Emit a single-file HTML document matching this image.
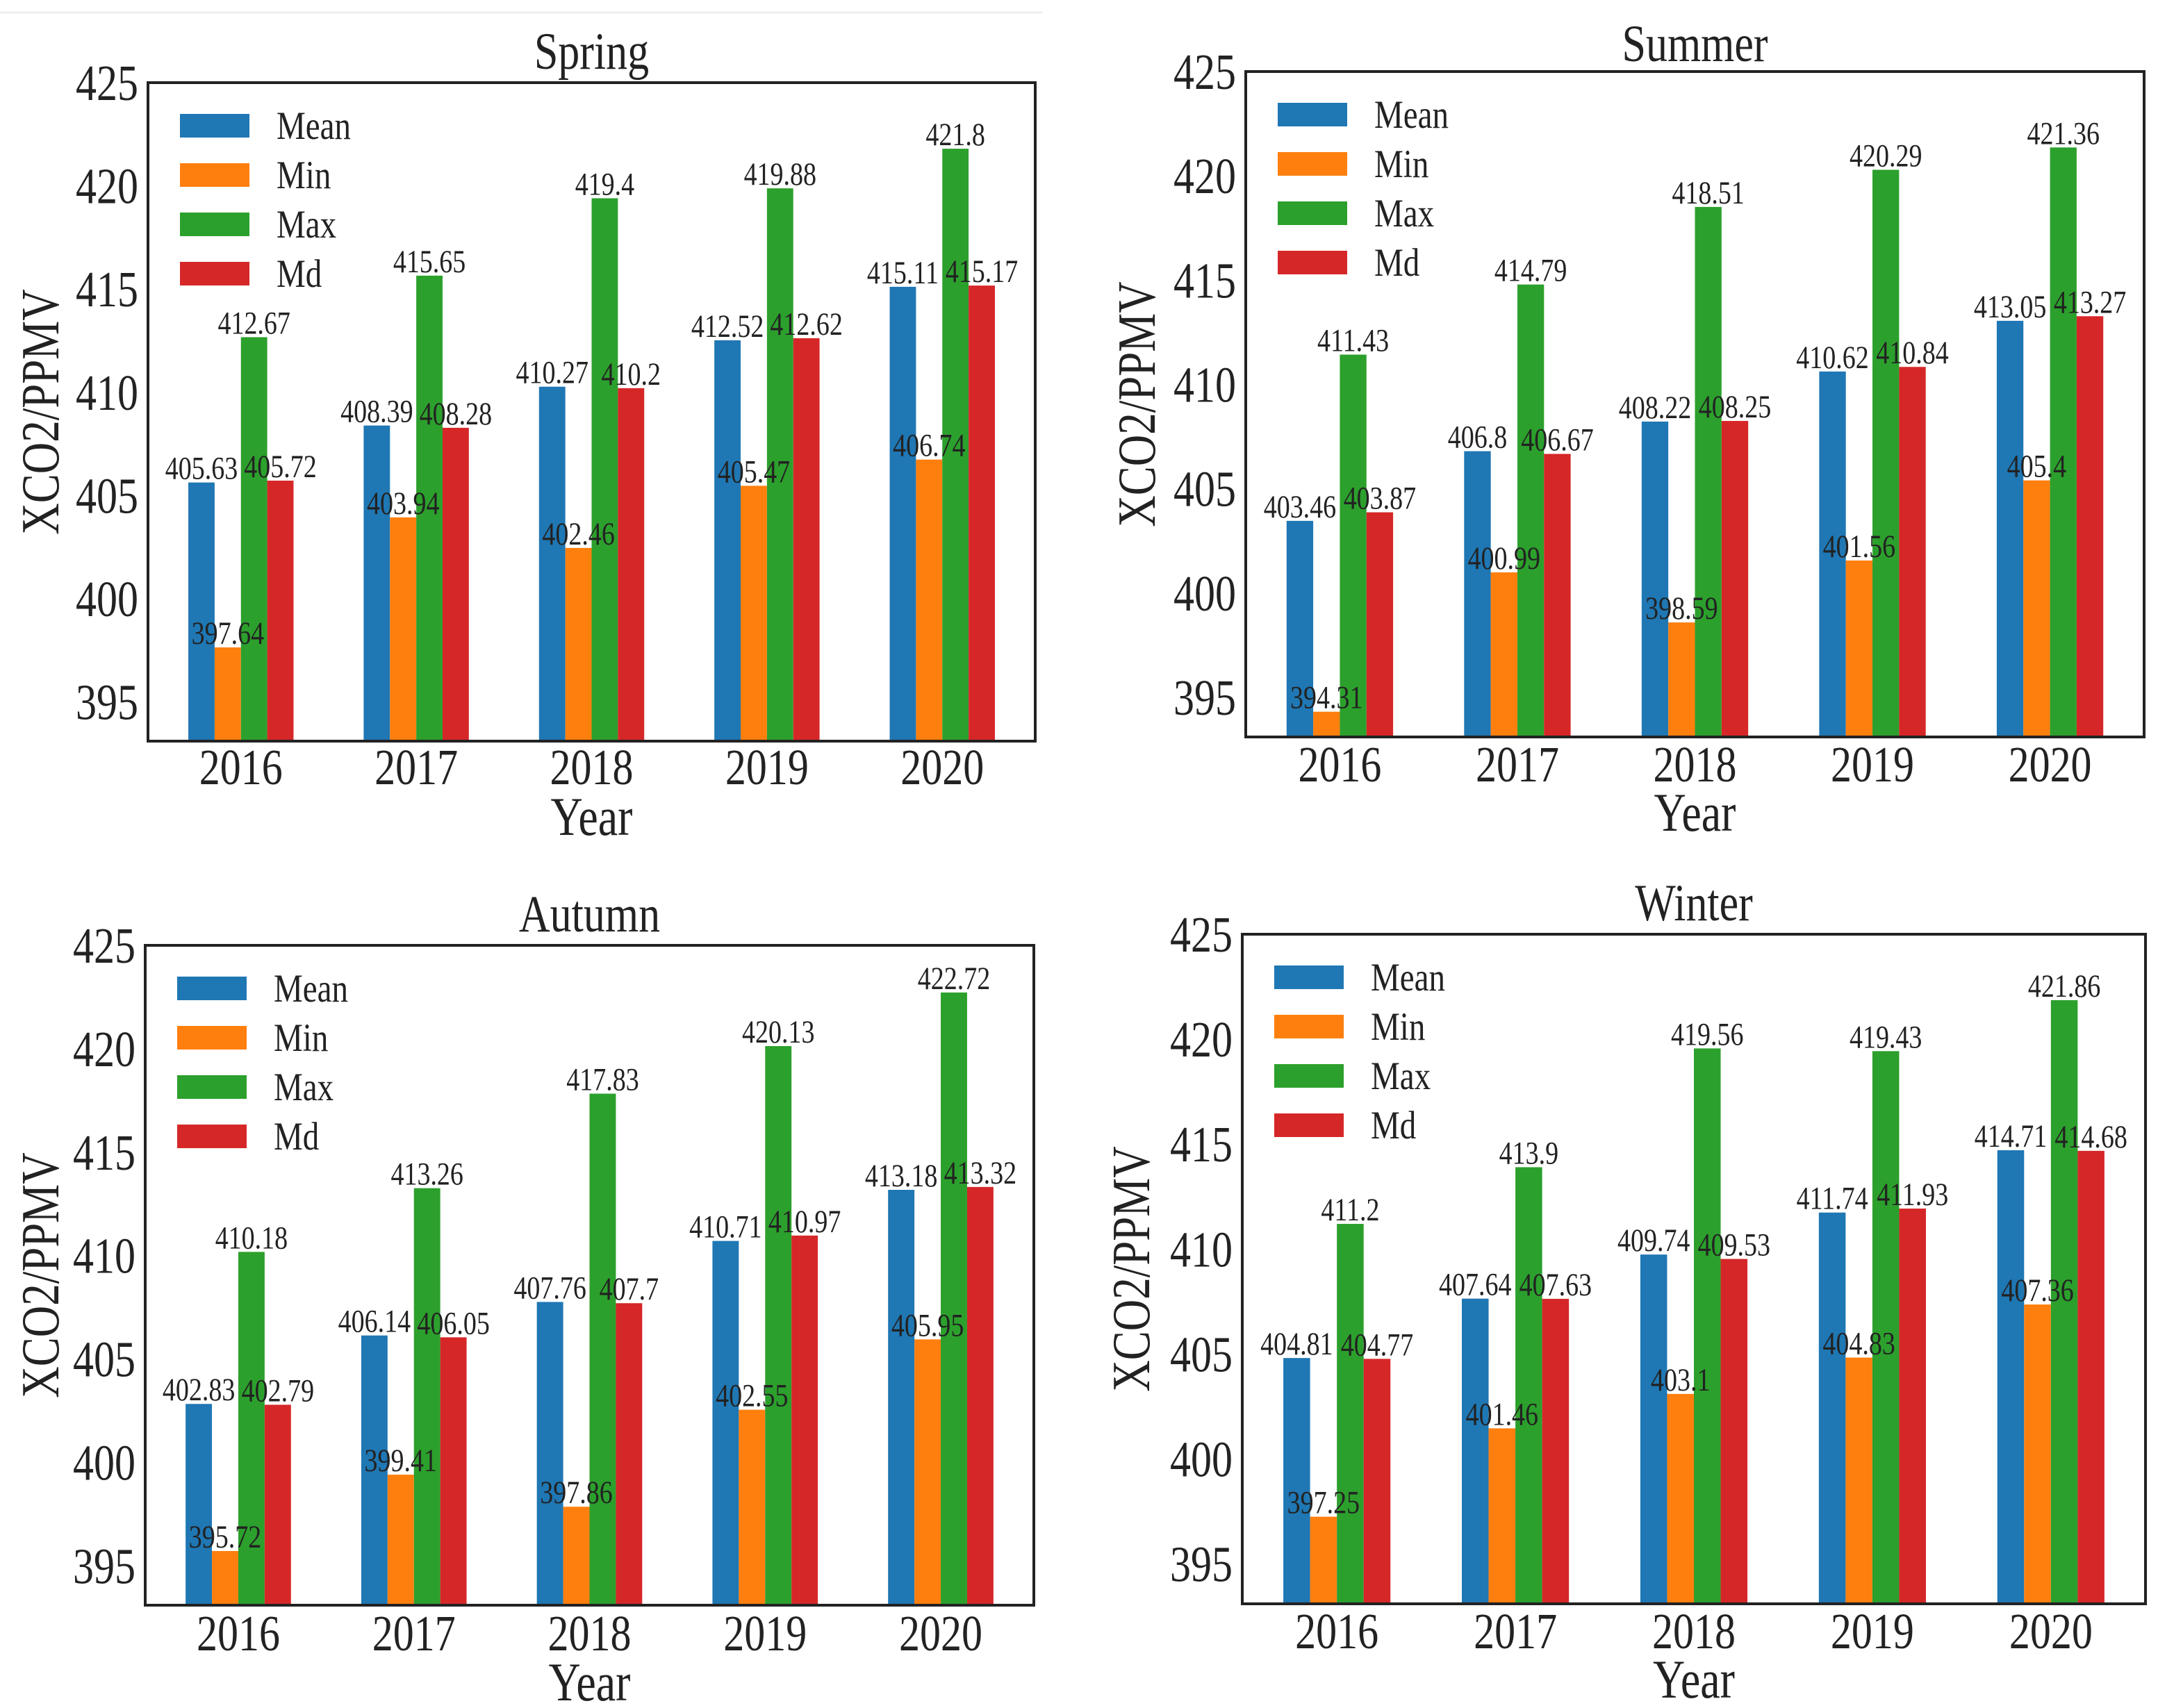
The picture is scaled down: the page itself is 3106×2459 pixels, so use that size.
<!DOCTYPE html>
<html><head><meta charset="utf-8">
<style>
html,body{margin:0;padding:0;background:#fff;}
svg{display:block;font-family:"Liberation Serif","Times New Roman",serif;}
</style></head>
<body>
<svg id="fig" width="3106" height="2459" viewBox="0 0 3106 2459" xmlns="http://www.w3.org/2000/svg">
<line x1="0" y1="18" x2="1500" y2="18" stroke="#eee" stroke-width="3"/>
</svg>
<script>
const years = ["2016","2017","2018","2019","2020"];
const seriesNames = ["Mean","Min","Max","Md"];
const colors = ["#1f77b4","#ff7f0e","#2ca02c","#d62728"];
const yTicks = [395,400,405,410,415,420,425];
const springMean = [405.63,408.39,410.27,412.52,415.11];
const springMin  = [397.64,403.94,402.46,405.47,406.74];
const springMax  = [412.67,415.65,419.4,419.88,421.8];
const springMd   = [405.72,408.28,410.2,412.62,415.17];
const summerMean = [403.46,406.8,408.22,410.62,413.05];
const summerMin  = [394.31,400.99,398.59,401.56,405.4];
const summerMax  = [411.43,414.79,418.51,420.29,421.36];
const summerMd   = [403.87,406.67,408.25,410.84,413.27];
const autumnMean = [402.83,406.14,407.76,410.71,413.18];
const autumnMin  = [395.72,399.41,397.86,402.55,405.95];
const autumnMax  = [410.18,413.26,417.83,420.13,422.72];
const autumnMd   = [402.79,406.05,407.7,410.97,413.32];
const winterMean = [404.81,407.64,409.74,411.74,414.71];
const winterMin  = [397.25,401.46,403.1,404.83,407.36];
const winterMax  = [411.2,413.9,419.56,419.43,421.86];
const winterMd   = [404.77,407.63,409.53,411.93,414.68];

const NS="http://www.w3.org/2000/svg";
const svg=document.getElementById('fig');
const SY=1.22;
function mk(tag,attrs,parent){const e=document.createElementNS(NS,tag);for(const k in attrs)e.setAttribute(k,attrs[k]);(parent||svg).appendChild(e);return e;}
function txt(parent,x,y,str,size,anchor,sx,rot){
  const t=mk('text',{x:0,y:0,'text-anchor':anchor,'font-size':size,fill:'#222',
    transform:`translate(${x} ${y})${rot?' rotate('+rot+')':''} scale(${sx||1} ${SY})`},parent);
  t.textContent=str;return t;
}

const panels=[
 {key:"spring",title:"Spring",L:213,R:1490,T:119,B:1067,titleY:75,tickY:1103,xlabY:1178,ylabX:60,series:[springMean,springMin,springMax,springMd]},
 {key:"summer",title:"Summer",L:1793,R:3086,T:103,B:1061,titleY:64,tickY:1099,xlabY:1172,ylabX:1638,series:[summerMean,summerMin,summerMax,summerMd]},
 {key:"autumn",title:"Autumn",L:209,R:1488,T:1361,B:2311,titleY:1317,tickY:2350,xlabY:2424,ylabX:60,series:[autumnMean,autumnMin,autumnMax,autumnMd]},
 {key:"winter",title:"Winter",L:1788,R:3088,T:1345,B:2309,titleY:1301,tickY:2347,xlabY:2420,ylabX:1630,series:[winterMean,winterMin,winterMax,winterMd]}
];
const Y0=393.1, Y1=425, X0=-0.53, X1=4.53, BW=0.15;

panels.forEach(p=>{
  const g=mk('g',{});
  
  
  const xs=v=>p.L+(v-X0)/(X1-X0)*(p.R-p.L);
  const ys=v=>p.B-(v-Y0)/(Y1-Y0)*(p.B-p.T);
  p.series.forEach((arr,k)=>{
    arr.forEach((v,i)=>{
      const cx=i+(k-1.5)*BW;
      const r=mk('rect',{x:xs(cx-BW/2),y:ys(v),width:xs(cx+BW/2)-xs(cx-BW/2),height:p.B-ys(v),fill:colors[k]},g);
      
      
    });
  });
  p.series.forEach((arr,k)=>{
    arr.forEach((v,i)=>{
      const cx=i+(k-1.5)*BW;
      const t=txt(g,xs(cx),ys(v)-5,String(v),38,'middle',1);
      
      
    });
  });
  const fr=mk('rect',{x:p.L,y:p.T,width:p.R-p.L,height:p.B-p.T,fill:'none',stroke:'#222','stroke-width':4},g);
  
  
  yTicks.forEach(v=>{
    const t=txt(g,p.L-14,ys(v)+25,v,60,'end',1);
    
    
  });
  years.forEach((yr,i)=>{
    const t=txt(g,xs(i),p.tickY+26,yr,60,'middle',1);
    
    
  });
  const tt=txt(g,(p.L+p.R)/2,p.titleY+24,p.title,62,'middle',1);
  
  
  const xl=txt(g,(p.L+p.R)/2,p.xlabY+24,"Year",64,'middle',1);
  
  
  const cy=(p.T+p.B)/2;
  const yl=txt(g,p.ylabX+24,cy,"XCO2/PPMV",63,'middle',1,-90);
  
  
  const lg=mk('g',{},g);
  
  
  seriesNames.forEach((n,k)=>{
    const cyy=p.T+62+k*71;
    const r=mk('rect',{x:p.L+46,y:cyy-17,width:100,height:34,fill:colors[k]},lg);
    
    
    const t=txt(lg,p.L+185,cyy+19,n,47,'start',1);
    
    
  });
});
</script>
</body></html>
